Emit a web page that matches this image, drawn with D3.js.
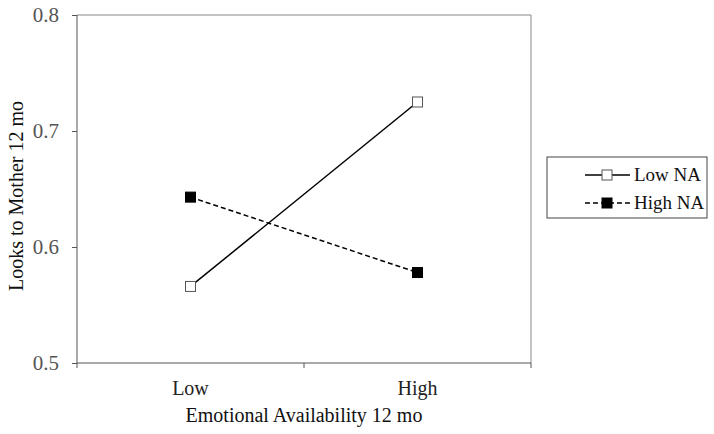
<!DOCTYPE html>
<html><head><meta charset="utf-8">
<script src="https://cdnjs.cloudflare.com/ajax/libs/d3/7.8.5/d3.min.js"></script>
<style>body{margin:0;background:#fff}svg{display:block}text{font-family:"Liberation Serif","Times New Roman",serif}</style>
</head><body><svg id="c" width="714" height="434"></svg>
<script>
const categories = ["Low", "High"];
const yTicks = [0.5, 0.6, 0.7, 0.8];
const seriesNames = ["Low NA", "High NA"];
const lowNA = [0.566, 0.725];
const highNA = [0.643, 0.578];

const svg = d3.select("#c");
const m = {l:77, r:531, t:15, b:363};
const x = d3.scaleBand().domain(categories).range([m.l, m.r]);
const y = d3.scaleLinear().domain([0.5, 0.8]).range([m.b, m.t]);

svg.append("path").attr("d", `M${m.l},${m.t}H${m.r}V${m.b}`).attr("fill","none").attr("stroke","#888").attr("stroke-width",1);

const ya = svg.append("g").attr("transform",`translate(${m.l},0)`)
  .call(d3.axisLeft(y).tickValues(yTicks).tickFormat(d3.format(".1f")).tickSize(5).tickPadding(13));
ya.select(".domain").attr("stroke","#555").attr("d",`M0,${m.t}V${m.b+5}`);
ya.selectAll(".tick line").attr("stroke","#555");
ya.selectAll("text").attr("font-size",21).attr("fill","#555").attr("font-family","Liberation Serif");

const xa = svg.append("g").attr("transform",`translate(0,${m.b})`);
xa.append("path").attr("d",`M${m.l},0H${m.r}`).attr("stroke","#555").attr("fill","none");
const bounds = [x.range()[0] + x.bandwidth(), x.range()[1]];
xa.selectAll("line.t").data(bounds).join("line").attr("x1",d=>d).attr("x2",d=>d).attr("y1",0).attr("y2",5).attr("stroke","#555");
xa.selectAll("text").data(categories).join("text")
  .attr("x",d=>x(d)+x.bandwidth()/2).attr("y",32).attr("text-anchor","middle")
  .attr("font-size",20).attr("fill","#222").text(d=>d);

svg.append("text").attr("x",304).attr("y",422).attr("text-anchor","middle").attr("font-size",20).attr("fill","#111").text("Emotional Availability 12 mo");
svg.append("text").attr("transform","translate(23,196) rotate(-90)").attr("text-anchor","middle").attr("font-size",20).attr("fill","#111").text("Looks to Mother 12 mo");

const cx = d => x(d) + x.bandwidth()/2;
const line = d3.line().x((d,i)=>cx(categories[i])).y(d=>y(d));
const series = [
  {name:seriesNames[0], vals:lowNA, dash:null, fill:"#fff", stroke:"#555"},
  {name:seriesNames[1], vals:highNA, dash:"5,3", fill:"#000", stroke:"#000"}
];
series.forEach(s=>{
  svg.append("path").attr("d",line(s.vals)).attr("fill","none").attr("stroke","#000").attr("stroke-width",1.5).attr("stroke-dasharray",s.dash);
  svg.selectAll(null).data(s.vals).join("rect")
    .attr("x",(d,i)=>cx(categories[i])-5).attr("y",d=>y(d)-5).attr("width",10).attr("height",10)
    .attr("fill",s.fill).attr("stroke",s.stroke).attr("stroke-width",1);
});

const lg = svg.append("g");
lg.append("rect").attr("x",547).attr("y",157).attr("width",160).attr("height",61).attr("fill","#fff").attr("stroke","#444").attr("stroke-width",1);
series.forEach((s,i)=>{
  const yy = 175 + i*28;
  lg.append("line").attr("x1",585).attr("x2",630).attr("y1",yy).attr("y2",yy).attr("stroke","#000").attr("stroke-width",1.5).attr("stroke-dasharray",s.dash);
  lg.append("rect").attr("x",602).attr("y",yy-5).attr("width",10).attr("height",10).attr("fill",s.fill).attr("stroke",s.stroke);
  lg.append("text").attr("x",634).attr("y",yy+6).attr("font-size",19).attr("fill","#111").text(s.name);
});
</script></body></html>
